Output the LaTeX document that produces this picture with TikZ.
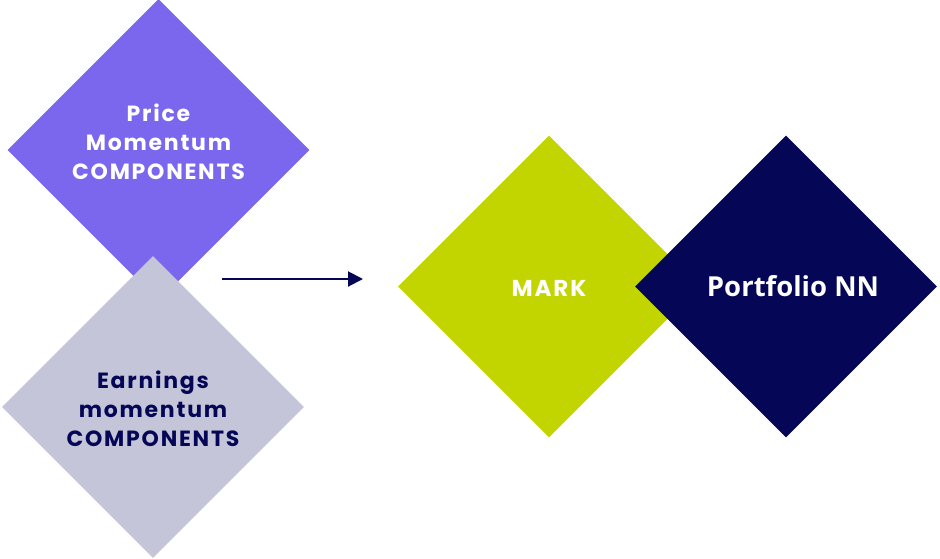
\documentclass[tikz,border=0pt]{standalone}
\usepackage{fontspec}
\setmainfont{Poppins}[LetterSpace=8]
\newfontfamily\labelsans{Open Sans}
\usetikzlibrary{shapes.geometric,arrows.meta}
\definecolor{lavender}{HTML}{7B66EE}
\definecolor{mist}{HTML}{C4C5D8}
\definecolor{lime}{HTML}{C2D500}
\definecolor{ink}{HTML}{050756}
\begin{document}
\begin{tikzpicture}[x=1pt,y=-1pt,
  tile/.style={diamond,aspect=1,inner sep=0pt,minimum width=302pt,minimum height=302pt,draw=none},
  caption/.style={align=center,font=\fontsize{22}{29}\selectfont\bfseries},
  flow/.style={draw=ink,line width=2pt,-{Triangle[length=15pt,width=15pt]}}]
\useasboundingbox (0,0) rectangle (940,558);
% left pair of inputs
\node[tile,fill=lavender] (price) at (158.5,150) {};
\node[tile,fill=mist] (earn) at (153,407) {};
\node[caption,text=white] (pricetxt) at (158.5,142) {Price\\Momentum\\COMPONENTS};
\node[caption,text=ink] (earntxt) at (153,409) {Earnings\\momentum\\COMPONENTS};
% right pair of outputs
\node[tile,fill=lime] (mark) at (549,286.5) {};
\node[tile,fill=ink] (nn) at (786,286.5) {};
\node[caption,text=white,font=\fontsize{23}{26}\selectfont\bfseries] (marktxt) at (549,288) {MARK};
\node[caption,text=white,font=\labelsans\fontsize{27.5}{30}\selectfont\bfseries] (nntxt) at (793,286) {Portfolio NN};
% connector
\coordinate (from) at (222,279);
\coordinate (to) at (363,279);
\draw[flow] (from) -- (to);
\end{tikzpicture}
\end{document}
